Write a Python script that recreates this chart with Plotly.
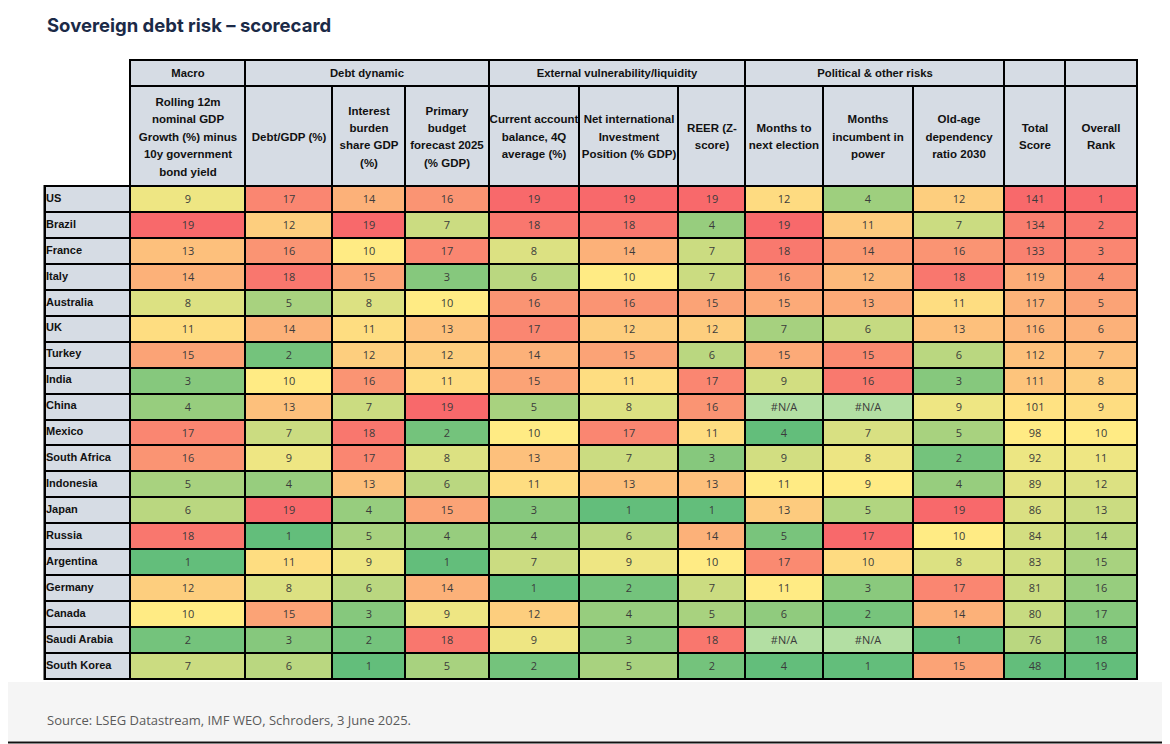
import numpy as np
import plotly.graph_objects as go

# ---- data ----
countries = ["US", "Brazil", "France", "Italy", "Australia", "UK", "Turkey", "India",
             "China", "Mexico", "South Africa", "Indonesia", "Japan", "Russia",
             "Argentina", "Germany", "Canada", "Saudi Arabia", "South Korea"]

gdp_minus_yield = [9, 19, 13, 14, 8, 11, 15, 3, 4, 17, 16, 5, 6, 18, 1, 12, 10, 2, 7]
debt_gdp = [17, 12, 16, 18, 5, 14, 2, 10, 13, 7, 9, 4, 19, 1, 11, 8, 15, 3, 6]
interest_burden = [14, 19, 10, 15, 8, 11, 12, 16, 7, 18, 17, 13, 4, 5, 9, 6, 3, 2, 1]
primary_budget = [16, 7, 17, 3, 10, 13, 12, 11, 19, 2, 8, 6, 15, 4, 1, 14, 9, 18, 5]
current_account = [19, 18, 8, 6, 16, 17, 14, 15, 5, 10, 13, 11, 3, 4, 7, 1, 12, 9, 2]
niip = [19, 18, 14, 10, 16, 12, 15, 11, 8, 17, 7, 13, 1, 6, 9, 2, 4, 3, 5]
reer = [19, 4, 7, 7, 15, 12, 6, 17, 16, 11, 3, 13, 1, 14, 10, 7, 5, 18, 2]
months_to_election = [12, 19, 18, 16, 15, 7, 15, 9, None, 4, 9, 11, 13, 5, 17, 11, 6, None, 4]
months_incumbent = [4, 11, 14, 12, 13, 6, 15, 16, None, 7, 8, 9, 5, 17, 10, 3, 2, None, 1]
old_age_ratio = [12, 7, 16, 18, 11, 13, 6, 3, 9, 5, 2, 4, 19, 10, 8, 17, 14, 1, 15]
total_score = [141, 134, 133, 119, 117, 116, 112, 111, 101, 98, 92, 89, 86, 84, 83, 81, 80, 76, 48]
overall_rank = [1, 2, 3, 4, 5, 6, 7, 8, 9, 10, 11, 12, 13, 14, 15, 16, 17, 18, 19]

columns = [gdp_minus_yield, debt_gdp, interest_burden, primary_budget, current_account,
           niip, reer, months_to_election, months_incumbent, old_age_ratio,
           total_score, overall_rank]
reverse_scale = [False] * 11 + [True]

column_labels = [
    "Rolling 12m<br>nominal GDP<br>Growth (%) minus<br>10y government<br>bond yield",
    "Debt/GDP (%)",
    "Interest<br>burden<br>share GDP<br>(%)",
    "Primary<br>budget<br>forecast 2025<br>(% GDP)",
    "Current account<br>balance, 4Q<br>average (%)",
    "Net international<br>Investment<br>Position (% GDP)",
    "REER (Z-<br>score)",
    "Months to<br>next election",
    "Months<br>incumbent in<br>power",
    "Old-age<br>dependency<br>ratio 2030",
    "Total<br>Score",
    "Overall<br>Rank",
]
group_labels = ["Macro", "Debt dynamic", "External vulnerability/liquidity",
                "Political & other risks", "", ""]
group_spans = [1, 3, 3, 3, 1, 1]

# ---- layout sizes (pixels) ----
W, H = 1170, 744
PAGE_MARGIN = 8   # default body margin of the html page
col_widths = [115, 87, 73, 84, 90, 99, 67, 78, 90, 91, 61, 72]
x_left = 130
label_left = 45
y_group_top, y_head_top, y_data_top, y_data_bottom = 60, 86, 186, 679

GREEN, YELLOW, RED = "#63BE7B", "#FFEB84", "#F8696B"
NA_FILL = "#B3DFA3"
HEAD_FILL = "#D6DCE4"

x_edges = x_left + np.concatenate([[0], np.cumsum(col_widths)])
row_h = (y_data_bottom - y_data_top) / len(countries)
y_edges = y_data_top + row_h * np.arange(len(countries) + 1)
y_mid = (y_edges[:-1] + y_edges[1:]) / 2
group_edges = x_edges[np.concatenate([[0], np.cumsum(group_spans)])]


def scale(vals, reverse):
    # 3-colour scale: min -> 0, median -> 0.5, max -> 1 (per column)
    good = np.array([v for v in vals if v is not None], dtype=float)
    lo, mid, hi = good.min(), np.median(good), good.max()
    out = []
    for v in vals:
        if v is None:
            out.append(np.nan)
            continue
        t = 0.5 * (v - lo) / (mid - lo) if v <= mid else 0.5 + 0.5 * (v - mid) / (hi - mid)
        out.append(1 - t if reverse else t)
    return out


z = np.array([scale(c, r) for c, r in zip(columns, reverse_scale)]).T
text = [["" if c[i] is None else str(c[i]) for c in columns] for i in range(len(countries))]
na_z = [[1 if c[i] is None else np.nan for c in columns] for i in range(len(countries))]
na_text = [["#N/A" if c[i] is None else "" for c in columns] for i in range(len(countries))]

num_font = dict(family="Open Sans", size=11, color="#3b3b3b")
label_font = dict(family="Liberation Sans", size=11, color="#111111")
group_font = dict(family="Liberation Sans", size=11.3, color="#111111")
# wider line spacing for the header block: big base size, small spans
tall_font = dict(family="Liberation Sans", size=13.4, color="#111111")
head_text = ["<br>".join("<span style='font-size:11.5px'><b>%s</b></span>" % ln
                         for ln in c.split("<br>")) for c in column_labels]

fig = go.Figure()

# data cells
fig.add_trace(go.Heatmap(
    z=z, x=x_edges, y=y_edges, text=text, texttemplate="%{text}", textfont=num_font,
    colorscale=[[0, GREEN], [0.5, YELLOW], [1, RED]], zmin=0, zmax=1,
    xgap=2, ygap=2, showscale=False, hoverinfo="skip"))
fig.add_trace(go.Heatmap(
    z=na_z, x=x_edges, y=y_edges, text=na_text, texttemplate="%{text}", textfont=num_font,
    colorscale=[[0, NA_FILL], [1, NA_FILL]], xgap=2, ygap=2, showscale=False,
    hoverinfo="skip"))

# header rows
fig.add_trace(go.Heatmap(
    z=[[0] * len(group_labels)], x=group_edges, y=[y_group_top, y_head_top],
    text=[["<b>%s</b>" % g for g in group_labels]], texttemplate="%{text}",
    textfont=group_font, colorscale=[[0, HEAD_FILL], [1, HEAD_FILL]],
    xgap=2, ygap=2, showscale=False, hoverinfo="skip"))
fig.add_trace(go.Heatmap(
    z=[[0] * len(column_labels)], x=x_edges, y=[y_head_top, y_data_top],
    text=[head_text], texttemplate="%{text}",
    textfont=tall_font, colorscale=[[0, HEAD_FILL], [1, HEAD_FILL]],
    xgap=2, ygap=2, showscale=False, hoverinfo="skip"))

# country label column
fig.add_trace(go.Heatmap(
    z=[[0] for _ in countries], x=[label_left, x_left], y=y_edges,
    colorscale=[[0, HEAD_FILL], [1, HEAD_FILL]],
    xgap=2, ygap=2, showscale=False, hoverinfo="skip"))
fig.add_trace(go.Scatter(
    x=[label_left + 1] * len(countries), y=y_mid, mode="text",
    text=["<b>%s</b>" % c for c in countries], textposition="middle right",
    textfont=label_font, hoverinfo="skip", showlegend=False))

# black grid behind the cells, light bottom band
fig.add_shape(type="rect", x0=0, x1=W, y0=682, y1=741, fillcolor="#F5F5F5",
              line_width=0, layer="below")
fig.add_shape(type="rect", x0=x_left - 1, x1=x_edges[-1] + 1, y0=y_group_top - 1,
              y1=y_data_bottom + 1, fillcolor="black", line_width=0, layer="below")
fig.add_shape(type="rect", x0=label_left - 1.5, x1=x_left + 1, y0=y_data_top - 1,
              y1=y_data_bottom + 1, fillcolor="black", line_width=0, layer="below")
fig.add_shape(type="line", x0=0, x1=W, y0=742.5, y1=742.5,
              line=dict(color="#111111", width=2))

fig.add_annotation(x=45, y=25, xref="x", yref="y", xanchor="left", yanchor="middle",
                   text="<b>Sovereign debt risk – scorecard</b>", showarrow=False,
                   font=dict(family="Inter", size=18.5, color="#1B2A47"))
fig.add_annotation(x=45, y=720, xref="x", yref="y", xanchor="left", yanchor="middle",
                   text="Source: LSEG Datastream, IMF WEO, Schroders, 3 June 2025.",
                   showarrow=False, font=dict(family="Open Sans", size=13, color="#5a5a5a"))

# axes in window pixels (the plot sits PAGE_MARGIN px in from the page corner)
fig.update_xaxes(range=[PAGE_MARGIN, W], visible=False, fixedrange=True)
fig.update_yaxes(range=[H, PAGE_MARGIN], visible=False, fixedrange=True)
fig.update_layout(width=W - PAGE_MARGIN, height=H - PAGE_MARGIN,
                  margin=dict(l=0, r=0, t=0, b=0),
                  paper_bgcolor="white", plot_bgcolor="white", showlegend=False)

fig.write_html("out.html")
